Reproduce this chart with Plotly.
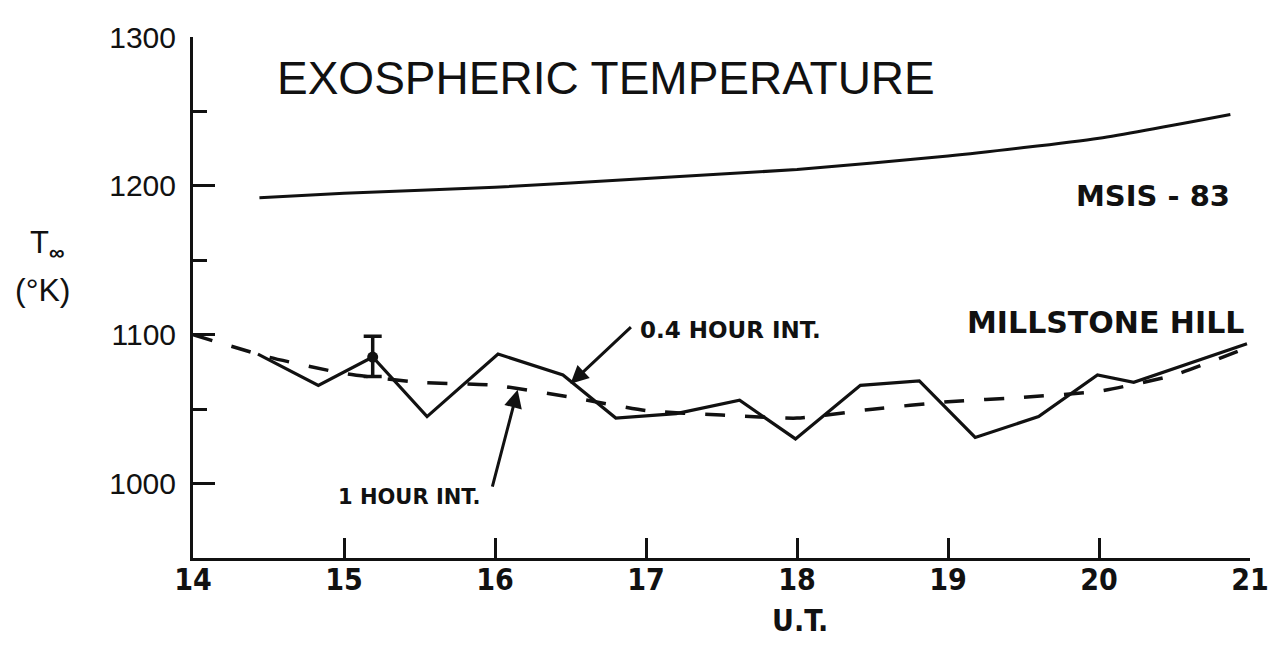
import plotly.graph_objects as go

# ---- data ----
msis_ut = [14.44, 15.0, 16.0, 17.0, 18.0, 19.0, 20.0, 20.87]
msis_t = [1192, 1195, 1199, 1205, 1211, 1220, 1232, 1248]

fine_ut = [14.43, 14.83, 15.19, 15.55, 16.02, 16.45, 16.80, 17.20, 17.62, 17.99,
           18.42, 18.81, 19.18, 19.60, 19.99, 20.23, 20.98]
fine_t = [1087, 1066, 1085, 1045, 1087, 1073, 1044, 1047, 1056, 1030,
          1066, 1069, 1031, 1045, 1073, 1068, 1094]

hour_ut = [14.0, 14.5, 15.0, 15.5, 16.0, 16.5, 17.0, 17.5, 18.0, 18.5, 19.0, 19.5, 20.0, 20.5, 21.0]
hour_t = [1100, 1085, 1074, 1068, 1066, 1058, 1049, 1046, 1044, 1050, 1055, 1058, 1062, 1073, 1092]

err_ut = [15.19]
err_t = [1085]
err_plus = [14]
err_minus = [13]

x_ticks = [14, 15, 16, 17, 18, 19, 20, 21]
y_ticks = [1000, 1100, 1200, 1300]
y_tick_labels = ["1000", "1100", "1200", "1300"]

INK = "#111111"

fig = go.Figure()
fig.add_trace(go.Scatter(x=msis_ut, y=msis_t, mode="lines",
                         line=dict(color=INK, width=3, shape="spline", smoothing=0.6),
                         showlegend=False, hoverinfo="skip"))
fig.add_trace(go.Scatter(x=hour_ut, y=hour_t, mode="lines",
                         line=dict(color=INK, width=3.5, dash="20px,20px", shape="spline", smoothing=0.5),
                         showlegend=False, hoverinfo="skip"))
fig.add_trace(go.Scatter(x=fine_ut, y=fine_t, mode="lines",
                         line=dict(color=INK, width=3.2),
                         showlegend=False, hoverinfo="skip"))
fig.add_trace(go.Scatter(x=err_ut, y=err_t, mode="markers",
                         marker=dict(size=11, color=INK),
                         error_y=dict(type="data", array=err_plus, arrayminus=err_minus,
                                      color=INK, thickness=3.5, width=9),
                         showlegend=False, hoverinfo="skip"))

tick_font = dict(family="Liberation Sans, Arial, sans-serif", size=30, color=INK)
xtick_font = dict(family="DejaVu Sans Condensed, Liberation Sans, sans-serif",
                  size=30, color=INK, weight="bold")

# the page body adds an 8px offset, so margins are reduced by 8 on the left/top
fig.update_layout(
    width=1277, height=661,
    margin=dict(l=185, r=35, t=20, b=111),
    paper_bgcolor="white", plot_bgcolor="white",
    xaxis=dict(range=[14, 21], tickmode="array", tickvals=x_ticks,
               ticktext=[str(v) for v in x_ticks],
               ticks="inside", ticklen=20, tickwidth=3, tickcolor=INK,
               showline=True, linewidth=3, linecolor=INK, mirror=False,
               showgrid=False, zeroline=False, tickfont=xtick_font,
               ticklabelstandoff=-7),
    yaxis=dict(range=[950, 1300], tickmode="array", tickvals=y_ticks,
               ticktext=y_tick_labels,
               ticks="inside", ticklen=22, tickwidth=3, tickcolor=INK,
               minor=dict(tickmode="array", tickvals=[1050, 1150, 1250],
                          ticks="inside", ticklen=14, tickwidth=3, tickcolor=INK, showgrid=False),
               showline=True, linewidth=3, linecolor=INK, mirror=False,
               showgrid=False, zeroline=False, tickfont=tick_font,
               ticklabelstandoff=8),
)

def px_x(px):
    return (px - 193) / 1057.0

def px_y(py):
    return (558 - py) / 530.0

ann_font = "Liberation Sans, Arial, sans-serif"
bold = "DejaVu Sans, Liberation Sans, sans-serif"
narrow = "DejaVu Sans Condensed, Liberation Sans, sans-serif"

annots = [
    dict(text="EXOSPHERIC TEMPERATURE", x=px_x(275), y=px_y(70), xanchor="left", yanchor="middle",
         font=dict(family=ann_font, size=46, color=INK)),
    dict(text="MSIS - 83", x=px_x(1232), y=px_y(190), xanchor="right", yanchor="middle",
         font=dict(family=bold, size=29, color=INK, weight="bold")),
    dict(text="MILLSTONE HILL", x=px_x(1246), y=px_y(318), xanchor="right", yanchor="middle",
         font=dict(family=bold, size=30, color=INK, weight="bold")),
    dict(text="0.4 HOUR INT.", x=px_x(638), y=px_y(326), xanchor="left", yanchor="middle",
         font=dict(family=bold, size=23, color=INK, weight="bold")),
    dict(text="1 HOUR INT.", x=px_x(482), y=px_y(496), xanchor="right", yanchor="middle",
         font=dict(family=bold, size=21, color=INK, weight="bold")),
    dict(text="U.T.", x=px_x(800), y=px_y(622), xanchor="center", yanchor="middle",
         font=dict(family=narrow, size=30, color=INK, weight="bold")),
    dict(text="T<sub><b>∞</b></sub>", x=px_x(28), y=px_y(240), xanchor="left", yanchor="middle",
         font=dict(family=ann_font, size=31, color=INK)),
    dict(text="(°K)", x=px_x(42), y=px_y(285), xanchor="center", yanchor="middle",
         font=dict(family=ann_font, size=32, color=INK)),
]
for a in annots:
    a.update(xref="paper", yref="paper", showarrow=False)
    fig.add_annotation(**a)

# arrows (tails near labels, heads on the curves)
fig.add_annotation(x=16.50, y=1067, ax=16.91, ay=1106, xref="x", yref="y", axref="x", ayref="y",
                   text="", showarrow=True, arrowhead=2, arrowsize=1.2, arrowwidth=3, arrowcolor=INK)
fig.add_annotation(x=16.15, y=1063, ax=15.98, ay=997, xref="x", yref="y", axref="x", ayref="y",
                   text="", showarrow=True, arrowhead=2, arrowsize=1.2, arrowwidth=3, arrowcolor=INK)

fig.write_html("out.html")
